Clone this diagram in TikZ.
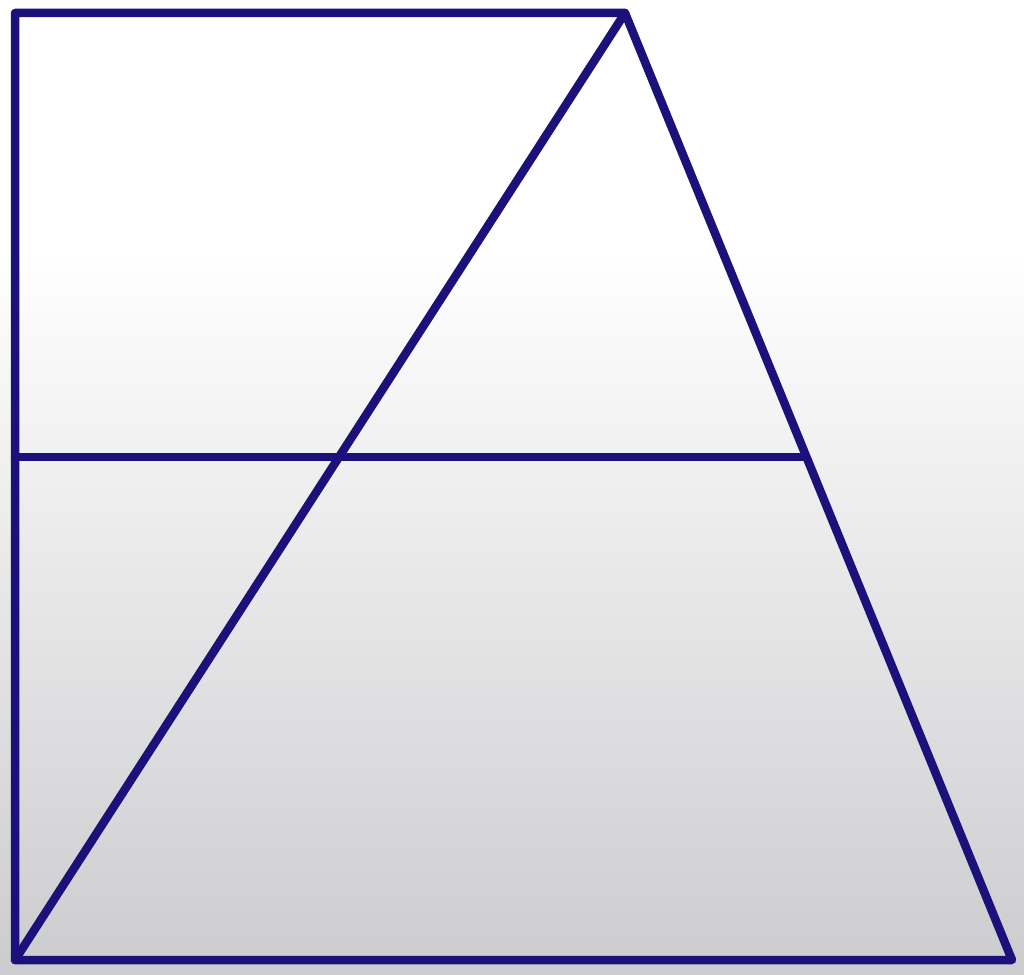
\documentclass[tikz,border=0pt]{standalone}
\definecolor{navy}{RGB}{28,16,122}
\definecolor{bggray}{RGB}{204,204,207}
\begin{document}
\begin{tikzpicture}[x=1pt,y=-1pt,
  edge/.style={draw=navy,line width=8.5pt,line join=round,line cap=round}]
\useasboundingbox (0,0) rectangle (1024,974);
\fill[white] (0,0) rectangle (1024,250);
\shade[top color=white,bottom color=bggray] (0,249) rectangle (1024,974);
\coordinate (TL) at (15,13);
\coordinate (TR) at (625,13);
\coordinate (BL) at (15,960);
\coordinate (BR) at (1012,960);
\coordinate (ML) at (15,457);
\coordinate (MR) at (806,457);
\draw[edge] (BL) -- (TL) -- (TR) -- (BR) -- cycle;
\draw[edge] (BL) -- (TR);
\draw[edge] (ML) -- (MR);
\end{tikzpicture}
\end{document}
